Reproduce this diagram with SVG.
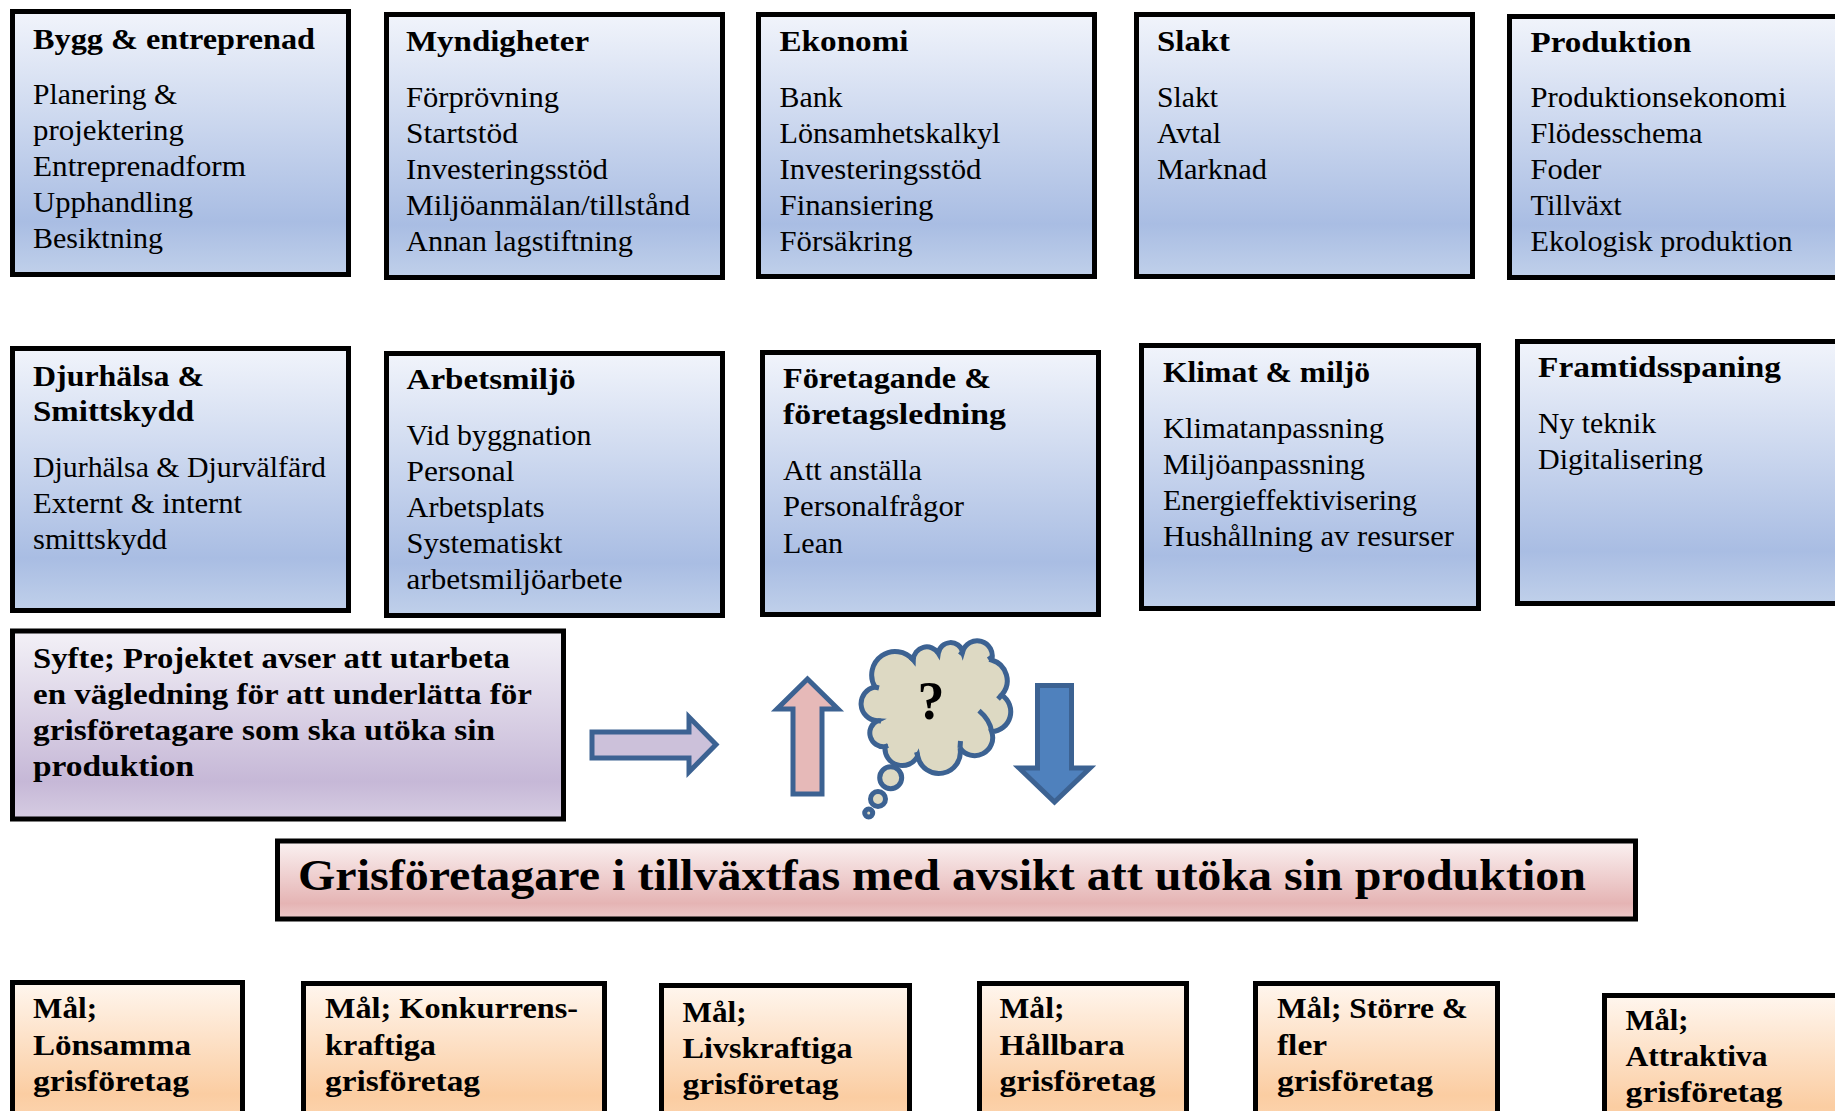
<svg xmlns="http://www.w3.org/2000/svg" width="1835" height="1111" viewBox="0 0 1835 1111">
<style>
text{font-family:"Liberation Serif","Times New Roman",serif;fill:#000;font-size:29.5px}
.b{font-weight:bold;font-size:30px}
.box{stroke:#000;stroke-width:5}
.blue{fill:url(#gb)}.org{fill:url(#go)}
.arr{stroke:#3c6292;stroke-width:5}
</style>
<defs>
<linearGradient id="gb" x1="0" y1="0" x2="0" y2="1"><stop offset="0" stop-color="#f1f4fb"/><stop offset=".8" stop-color="#a9bde3"/><stop offset="1" stop-color="#c0d0ea"/></linearGradient>
<linearGradient id="gp" x1="0" y1="0" x2="0" y2="1"><stop offset="0" stop-color="#f3f1f7"/><stop offset=".8" stop-color="#c6b8d7"/><stop offset="1" stop-color="#d6cce2"/></linearGradient>
<linearGradient id="gr" x1="0" y1="0" x2="0" y2="1"><stop offset="0" stop-color="#fbf2f2"/><stop offset=".8" stop-color="#e5b4b4"/><stop offset="1" stop-color="#eccaca"/></linearGradient>
<linearGradient id="go" x1="0" y1="0" x2="0" y2="1"><stop offset="0" stop-color="#fff6ee"/><stop offset=".62" stop-color="#fbcda2"/><stop offset="1" stop-color="#fde0c4"/></linearGradient>
</defs>
<g id="bygg"><rect class="box blue" x="12.5" y="11.5" width="336" height="263"/>
<text class="b" x="33" y="49" textLength="282" lengthAdjust="spacingAndGlyphs">Bygg &amp; entreprenad</text>
<text x="33" y="104" textLength="144" lengthAdjust="spacingAndGlyphs">Planering &amp;</text>
<text x="33" y="140" textLength="151" lengthAdjust="spacingAndGlyphs">projektering</text>
<text x="33" y="176" textLength="213" lengthAdjust="spacingAndGlyphs">Entreprenadform</text>
<text x="33" y="212" textLength="160" lengthAdjust="spacingAndGlyphs">Upphandling</text>
<text x="33" y="248" textLength="130" lengthAdjust="spacingAndGlyphs">Besiktning</text></g>
<g id="myndigheter"><rect class="box blue" x="386.5" y="14.5" width="336" height="263"/>
<text class="b" x="406" y="51" textLength="183" lengthAdjust="spacingAndGlyphs">Myndigheter</text>
<text x="406" y="107" textLength="153" lengthAdjust="spacingAndGlyphs">Förprövning</text>
<text x="406" y="143" textLength="112" lengthAdjust="spacingAndGlyphs">Startstöd</text>
<text x="406" y="179" textLength="202" lengthAdjust="spacingAndGlyphs">Investeringsstöd</text>
<text x="406" y="215" textLength="284" lengthAdjust="spacingAndGlyphs">Miljöanmälan/tillstånd</text>
<text x="406" y="251" textLength="227" lengthAdjust="spacingAndGlyphs">Annan lagstiftning</text></g>
<g id="ekonomi"><rect class="box blue" x="758.5" y="14.5" width="336" height="262"/>
<text class="b" x="779.5" y="51" textLength="129" lengthAdjust="spacingAndGlyphs">Ekonomi</text>
<text x="779.5" y="107" textLength="63" lengthAdjust="spacingAndGlyphs">Bank</text>
<text x="779.5" y="143" textLength="221" lengthAdjust="spacingAndGlyphs">Lönsamhetskalkyl</text>
<text x="779.5" y="179" textLength="202" lengthAdjust="spacingAndGlyphs">Investeringsstöd</text>
<text x="779.5" y="215" textLength="154" lengthAdjust="spacingAndGlyphs">Finansiering</text>
<text x="779.5" y="251" textLength="133" lengthAdjust="spacingAndGlyphs">Försäkring</text></g>
<g id="slakt"><rect class="box blue" x="1136.5" y="14.5" width="336" height="262"/>
<text class="b" x="1157" y="51" textLength="73" lengthAdjust="spacingAndGlyphs">Slakt</text>
<text x="1157" y="107" textLength="61" lengthAdjust="spacingAndGlyphs">Slakt</text>
<text x="1157" y="143" textLength="64" lengthAdjust="spacingAndGlyphs">Avtal</text>
<text x="1157" y="179" textLength="110" lengthAdjust="spacingAndGlyphs">Marknad</text></g>
<g id="produktion"><rect class="box blue" x="1509.5" y="16.5" width="336" height="261"/>
<text class="b" x="1530.5" y="52" textLength="161" lengthAdjust="spacingAndGlyphs">Produktion</text>
<text x="1530.5" y="107" textLength="256" lengthAdjust="spacingAndGlyphs">Produktionsekonomi</text>
<text x="1530.5" y="143" textLength="172" lengthAdjust="spacingAndGlyphs">Flödesschema</text>
<text x="1530.5" y="179" textLength="71" lengthAdjust="spacingAndGlyphs">Foder</text>
<text x="1530.5" y="215" textLength="91" lengthAdjust="spacingAndGlyphs">Tillväxt</text>
<text x="1530.5" y="251" textLength="262" lengthAdjust="spacingAndGlyphs">Ekologisk produktion</text></g>
<g id="djurhalsa"><rect class="box blue" x="12.5" y="348.5" width="336" height="262"/>
<text class="b" x="33" y="386" textLength="171" lengthAdjust="spacingAndGlyphs">Djurhälsa &amp;</text>
<text class="b" x="33" y="421" textLength="161" lengthAdjust="spacingAndGlyphs">Smittskydd</text>
<text x="33" y="477" textLength="293" lengthAdjust="spacingAndGlyphs">Djurhälsa &amp; Djurvälfärd</text>
<text x="33" y="513" textLength="209" lengthAdjust="spacingAndGlyphs">Externt &amp; internt</text>
<text x="33" y="549" textLength="134" lengthAdjust="spacingAndGlyphs">smittskydd</text></g>
<g id="arbetsmiljo"><rect class="box blue" x="386.5" y="353.5" width="336" height="262"/>
<text class="b" x="406.500" y="389" textLength="169" lengthAdjust="spacingAndGlyphs">Arbetsmiljö</text>
<text x="406.500" y="445" textLength="185" lengthAdjust="spacingAndGlyphs">Vid byggnation</text>
<text x="406.500" y="481" textLength="108" lengthAdjust="spacingAndGlyphs">Personal</text>
<text x="406.500" y="517" textLength="138" lengthAdjust="spacingAndGlyphs">Arbetsplats</text>
<text x="406.500" y="553" textLength="156" lengthAdjust="spacingAndGlyphs">Systematiskt</text>
<text x="406.500" y="589" textLength="216" lengthAdjust="spacingAndGlyphs">arbetsmiljöarbete</text></g>
<g id="foretagande"><rect class="box blue" x="762.5" y="352.5" width="336" height="262"/>
<text class="b" x="783" y="388" textLength="208" lengthAdjust="spacingAndGlyphs">Företagande &amp;</text>
<text class="b" x="783" y="424" textLength="223" lengthAdjust="spacingAndGlyphs">företagsledning</text>
<text x="783" y="480" textLength="139" lengthAdjust="spacingAndGlyphs">Att anställa</text>
<text x="783" y="516" textLength="181" lengthAdjust="spacingAndGlyphs">Personalfrågor</text>
<text x="783" y="553" textLength="60" lengthAdjust="spacingAndGlyphs">Lean</text></g>
<g id="klimat"><rect class="box blue" x="1141.5" y="345.5" width="337" height="263"/>
<text class="b" x="1163" y="382" textLength="207" lengthAdjust="spacingAndGlyphs">Klimat &amp; miljö</text>
<text x="1163" y="438" textLength="221" lengthAdjust="spacingAndGlyphs">Klimatanpassning</text>
<text x="1163" y="474" textLength="202" lengthAdjust="spacingAndGlyphs">Miljöanpassning</text>
<text x="1163" y="510" textLength="254" lengthAdjust="spacingAndGlyphs">Energieffektivisering</text>
<text x="1163" y="546" textLength="291" lengthAdjust="spacingAndGlyphs">Hushållning av resurser</text></g>
<g id="framtid"><rect class="box blue" x="1517.5" y="341.5" width="336" height="262"/>
<text class="b" x="1538" y="377" textLength="243" lengthAdjust="spacingAndGlyphs">Framtidsspaning</text>
<text x="1538" y="433" textLength="118" lengthAdjust="spacingAndGlyphs">Ny teknik</text>
<text x="1538" y="469" textLength="165" lengthAdjust="spacingAndGlyphs">Digitalisering</text></g>
<g id="syfte"><rect class="box" fill="url(#gp)" x="12.5" y="631" width="551" height="188"/>
<text class="b" x="33" y="668" textLength="477" lengthAdjust="spacingAndGlyphs">Syfte; Projektet avser att utarbeta</text>
<text class="b" x="33" y="704" textLength="499" lengthAdjust="spacingAndGlyphs">en vägledning för att underlätta för</text>
<text class="b" x="33" y="740" textLength="462" lengthAdjust="spacingAndGlyphs">grisföretagare som ska utöka sin</text>
<text class="b" x="33" y="776" textLength="161" lengthAdjust="spacingAndGlyphs">produktion</text></g>
<g id="arrow-right"><path class="arr" fill="#ccc1da" d="M592 732H689V717L716 744.500L689 772V758H592Z" transform="translate(0 0)"/></g>
<g id="arrow-up"><path class="arr" fill="#e6b9b8" d="M807.500 679L838 709H822V794H793V709H777Z"/></g>
<g id="cloud"><path class="arr" fill="#ddd9c3" d="M875 687A23.500 23.500 0 0 1 913.300 660A13.500 13.500 0 0 1 938.300 653.300A12.500 12.500 0 0 1 962.700 651.700A15 15 0 0 1 991.700 660A21.500 21.500 0 0 1 1001.700 695A20 20 0 0 1 991.700 731.700A18 18 0 0 1 960 748A21.500 21.500 0 0 1 917.700 756A17.300 17.300 0 0 1 885 746.700A13.800 13.800 0 0 1 877.300 720.700A17 17 0 0 1 875 687Z"/>
<path class="arr" fill="none" d="M979 710.700Q990 720 991.700 731.700M960 748L960.500 741M917.700 756L916.500 752M991.700 660L989 656M1001.700 695L998 699M913.300 660L910 657M938.300 653.300L937 649M962.700 651.700L960 655M885 746.700L888 745.500M877.300 720.700L881 721M875 687L879 688"/>
<circle class="arr" fill="#ddd9c3" cx="890.700" cy="777.700" r="11"/>
<circle class="arr" fill="#ddd9c3" cx="878" cy="799" r="7.500"/>
<circle class="arr" fill="#ddd9c3" cx="868.700" cy="813" r="4"/>
<text x="931" y="719" text-anchor="middle" style="font-size:54px;font-weight:bold">?</text></g>
<g id="arrow-down"><path class="arr" fill="#4f81bd" d="M1037.500 685.500H1071.500V768H1090L1054.500 802L1019 768H1037.500Z"/></g>
<g id="main"><rect class="box" fill="url(#gr)" x="277.500" y="841" width="1358" height="78"/>
<text class="b" x="298" y="890" textLength="1288" lengthAdjust="spacingAndGlyphs" style="font-size:44px">Grisföretagare i tillväxtfas med avsikt att utöka sin produktion</text></g>
<g id="mal1"><rect class="box org" x="12.5" y="982.500" width="230" height="180"/>
<text class="b" x="33" y="1018" textLength="64" lengthAdjust="spacingAndGlyphs">Mål;</text>
<text class="b" x="33" y="1055" textLength="158" lengthAdjust="spacingAndGlyphs">Lönsamma</text>
<text class="b" x="33" y="1091" textLength="156" lengthAdjust="spacingAndGlyphs">grisföretag</text></g>
<g id="mal2"><rect class="box org" x="303.500" y="983.500" width="301" height="180"/>
<text class="b" x="325" y="1018" textLength="253" lengthAdjust="spacingAndGlyphs">Mål; Konkurrens-</text>
<text class="b" x="325" y="1055" textLength="111" lengthAdjust="spacingAndGlyphs">kraftiga</text>
<text class="b" x="325" y="1091" textLength="155" lengthAdjust="spacingAndGlyphs">grisföretag</text></g>
<g id="mal3"><rect class="box org" x="661.500" y="985.500" width="248" height="180"/>
<text class="b" x="682.500" y="1022" textLength="64" lengthAdjust="spacingAndGlyphs">Mål;</text>
<text class="b" x="682.500" y="1058" textLength="170" lengthAdjust="spacingAndGlyphs">Livskraftiga</text>
<text class="b" x="682.500" y="1094" textLength="156" lengthAdjust="spacingAndGlyphs">grisföretag</text></g>
<g id="mal4"><rect class="box org" x="979.500" y="983.500" width="207" height="180"/>
<text class="b" x="999.500" y="1018" textLength="65" lengthAdjust="spacingAndGlyphs">Mål;</text>
<text class="b" x="999.500" y="1055" textLength="125" lengthAdjust="spacingAndGlyphs">Hållbara</text>
<text class="b" x="999.500" y="1091" textLength="156" lengthAdjust="spacingAndGlyphs">grisföretag</text></g>
<g id="mal5"><rect class="box org" x="1255.500" y="983.500" width="242" height="180"/>
<text class="b" x="1277" y="1018" textLength="191" lengthAdjust="spacingAndGlyphs">Mål; Större &amp;</text>
<text class="b" x="1277" y="1055" textLength="50" lengthAdjust="spacingAndGlyphs">fler</text>
<text class="b" x="1277" y="1091" textLength="156" lengthAdjust="spacingAndGlyphs">grisföretag</text></g>
<g id="mal6"><rect class="box org" x="1604.500" y="995.500" width="260" height="180"/>
<text class="b" x="1625.500" y="1030" textLength="63" lengthAdjust="spacingAndGlyphs">Mål;</text>
<text class="b" x="1625.500" y="1066" textLength="142" lengthAdjust="spacingAndGlyphs">Attraktiva</text>
<text class="b" x="1625.500" y="1102" textLength="157" lengthAdjust="spacingAndGlyphs">grisföretag</text></g>
</svg>
